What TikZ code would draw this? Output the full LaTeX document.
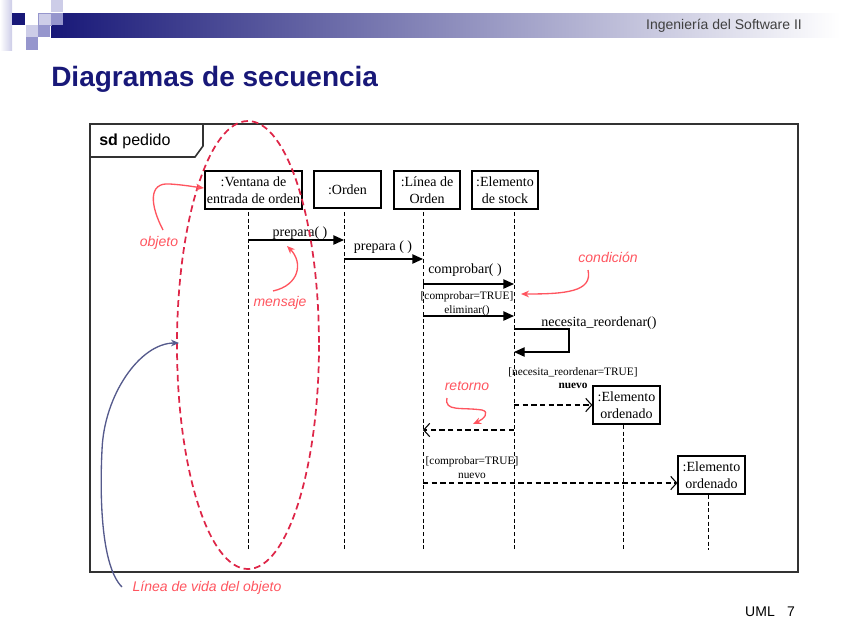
\documentclass[tikz,border=0pt]{standalone}
\usepackage{fontspec}
\setmainfont{Liberation Serif}
\setsansfont{Liberation Sans}
\newfontfamily\arial{Liberation Sans}
\usetikzlibrary{arrows.meta}
\definecolor{navy}{RGB}{24,24,120}
\definecolor{lav}{RGB}{150,150,205}
\definecolor{lavlight}{RGB}{205,205,232}
\definecolor{annot}{RGB}{255,85,95}
\definecolor{ellred}{RGB}{222,38,72}
\definecolor{slate}{RGB}{85,90,140}
\definecolor{frame}{RGB}{50,50,50}
\tikzset{
  objbox/.style={draw, line width=0.9pt, fill=white, align=center, inner sep=0pt,
    font=\fontsize{10.5}{12.5}\selectfont},
  lifeline/.style={line width=0.7pt, dash pattern=on 3pt off 2pt},
  msg/.style={line width=1pt, -{Triangle[length=8pt,width=7pt]}},
  dmsg/.style={line width=0.8pt, dash pattern=on 4pt off 2.5pt, -{Straight Barb[length=4.5pt,width=10pt,line width=0.8pt]}},
  lbl/.style={inner sep=0pt, font=\fontsize{10.5}{12}\selectfont},
  small/.style={inner sep=0pt, font=\fontsize{8.5}{10}\selectfont},
  note/.style={inner sep=0pt, text=annot, font=\arial\itshape\fontsize{10.5}{12}\selectfont},
  notearrow/.style={annot, line width=1pt, -{Stealth[length=6pt,width=5pt]}},
}
\begin{document}
\begin{tikzpicture}[x=0.75pt,y=-0.75pt]
\useasboundingbox (0,0) rectangle (848,636);
% header
\shade[left color=white, right color=lavlight] (0,0) rectangle (12,50);
\shade[left color=navy, right color=white] (51,13) rectangle (840,37);
\fill[navy] (12,13) rectangle (25,25);
\fill[lavlight] (51,0) rectangle (63,12);
\fill[lavlight, draw=lav, line width=0.4pt] (38,13) rectangle (51,25);
\fill[lav] (51,13) rectangle (63,25);
\fill[lavlight] (26,25) rectangle (38,37);
\fill[lav] (38,25) rectangle (50,37);
\fill[lav] (26,37) rectangle (38,50);
\node[inner sep=0pt, text=black!75, font=\arial\fontsize{10.5}{12}\selectfont] (hdr) at (724,26) {Ingeniería del Software II};
\node[inner sep=0pt, anchor=base west, text=navy, font=\arial\bfseries\fontsize{21}{24}\selectfont] (title) at (51,86) {Diagramas de secuencia};
% frame
\draw[frame, line width=1.2pt] (90,124) rectangle (798,572);
\draw[frame, line width=1.2pt] (90,157) -- (195,157) -- (203,146) -- (203,124);
\node[inner sep=0pt, anchor=base west, font=\arial\fontsize{12}{14}\selectfont] (sd) at (99,145) {\textbf{sd} pedido};
% objects
\node[objbox, minimum width=97pt*0.75, minimum height=38pt*0.75] (o1) at (253.5,190) {:Ventana de\\entrada de orden};
\node[objbox, minimum width=67pt*0.75, minimum height=37pt*0.75] (o2) at (347.5,189.5) {:Orden};
\node[objbox, minimum width=66pt*0.75, minimum height=38pt*0.75] (o3) at (427,190) {:Línea de\\Orden};
\node[objbox, minimum width=66pt*0.75, minimum height=38pt*0.75] (o4) at (505,190) {:Elemento\\de stock};
\node[objbox, minimum width=67pt*0.75, minimum height=38pt*0.75] (o5) at (626.5,405) {:Elemento\\ordenado};
\node[objbox, minimum width=67pt*0.75, minimum height=38pt*0.75] (o6) at (711.5,475) {:Elemento\\ordenado};
% lifeline ends
\coordinate (l1t) at (248,212); \coordinate (l1b) at (248,550);
\coordinate (l2t) at (344,212); \coordinate (l2b) at (344,550);
\coordinate (l3t) at (423,212); \coordinate (l3b) at (423,550);
\coordinate (l4t) at (514,212); \coordinate (l4b) at (514,550);
\coordinate (l5t) at (623,425); \coordinate (l5b) at (623,550);
\coordinate (l6t) at (708,495); \coordinate (l6b) at (708,550);
\foreach \i in {1,...,6} {\draw[lifeline] (l\i t) -- (l\i b);}
% messages
\coordinate (m1a) at (248,240); \coordinate (m1b) at (344,240);
\coordinate (m2a) at (344,259); \coordinate (m2b) at (423,259);
\coordinate (m3a) at (423,284); \coordinate (m3b) at (514,284);
\coordinate (m4a) at (423,316); \coordinate (m4b) at (514,316);
\coordinate (s1) at (514,329); \coordinate (s2) at (569,329);
\coordinate (s3) at (569,352); \coordinate (s4) at (514,352);
\coordinate (n1a) at (514,405);
\coordinate (r1a) at (514,430); \coordinate (r1b) at (423,430);
\coordinate (n2a) at (423,483);
\draw[msg] (m1a) -- (m1b);
\draw[msg] (m2a) -- (m2b);
\draw[msg] (m3a) -- (m3b);
\draw[msg] (m4a) -- (m4b);
\draw[msg] (s1) -- (s2) -- (s3) -- (s4);
\draw[dmsg] (n1a) -- (n1a -| o5.west);
\draw[dmsg] (r1a) -- (r1b);
\draw[dmsg] (n2a) -- (n2a -| o6.west);
\node[lbl] (t1) at (300,233) {prepara( )};
\node[lbl] (t2) at (383,247) {prepara ( )};
\node[lbl] (t3) at (465,270) {comprobar( )};
\node[small] (t4) at (467,297) {[comprobar=TRUE]};
\node[small] (t5) at (467,311) {eliminar()};
\node[lbl] (t6) at (599,323) {necesita\_reordenar()};
\node[small] (t7) at (573,372) {[necesita\_reordenar=TRUE]};
\node[small, font=\bfseries\fontsize{8.5}{10}\selectfont] (t8) at (573,386) {nuevo};
\node[small] (t9) at (472,462) {[comprobar=TRUE]};
\node[small] (t10) at (472,476) {nuevo};
% red ellipse
\draw[ellred, line width=1.3pt, dash pattern=on 5pt off 3pt] (248,345) ellipse [x radius=71, y radius=224];
% annotations
\node[note] (a1) at (159,243) {objeto};
\node[note] (a2) at (280,303) {mensaje};
\node[note] (a3) at (608,257) {condición};
\node[note] (a4) at (467,386) {retorno};
\node[note] (a5) at (207,588) {Línea de vida del objeto};
\coordinate (a1s) at (163,230); \coordinate (a1e) at (204,188);
\coordinate (a2s) at (273,291); \coordinate (a2e) at (287,246);
\coordinate (a3s) at (588,270); \coordinate (a3e) at (521,294);
\coordinate (a4s) at (447,398); \coordinate (a4m) at (482,410); \coordinate (a4e) at (473,424);
\coordinate (a5s) at (122,587); \coordinate (a5m) at (102,450); \coordinate (a5e) at (179,343);
\draw[notearrow] (a1s) .. controls (150,205) and (148,182) .. (170,184) .. controls (185,185) and (195,187) .. (a1e);
\draw[notearrow] (a2s) .. controls (300,285) and (303,262) .. (a2e);
\draw[notearrow] (a3s) .. controls (593,292) and (565,294) .. (a3e);
\draw[notearrow] (a4s) .. controls (444,412) and (462,407) .. (a4m) .. controls (490,412) and (484,419) .. (a4e);
\draw[slate, line width=1pt, -{Stealth[length=6pt,width=5pt]}] (a5s) .. controls (100,565) and (100,490) .. (a5m) .. controls (104,395) and (140,343) .. (a5e);
% footer
\node[inner sep=0pt, font=\arial\fontsize{10.5}{12}\selectfont] (f1) at (760,612) {UML};
\node[inner sep=0pt, font=\arial\fontsize{10.5}{12}\selectfont] (f2) at (791,612) {7};
\end{tikzpicture}
\end{document}
